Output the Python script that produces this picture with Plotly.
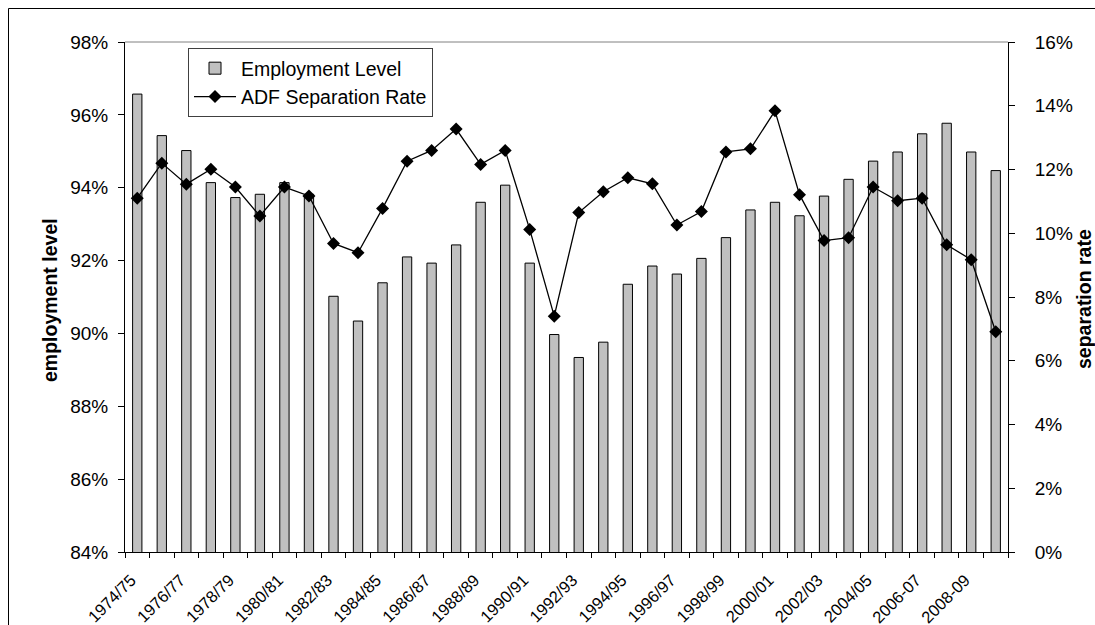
import plotly.graph_objects as go

categories = ["1974/75", "1975/76", "1976/77", "1977/78", "1978/79", "1979/80",
              "1980/81", "1981/82", "1982/83", "1983/84", "1984/85", "1985/86",
              "1986/87", "1987/88", "1988/89", "1989/90", "1990/91", "1991/92",
              "1992/93", "1993/94", "1994/95", "1995/96", "1996/97", "1997/98",
              "1998/99", "1999/00", "2000/01", "2001/02", "2002/03", "2003/04",
              "2004/05", "2005/06", "2006-07", "2007-08", "2008-09", "2009-10"]

employment_level = [96.57, 95.43, 95.02, 94.14, 93.73, 93.82, 94.14, 93.82, 91.02, 90.34,
                    91.39, 92.10, 91.93, 92.43, 93.60, 94.07, 91.93, 89.97, 89.34, 89.76,
                    91.35, 91.85, 91.63, 92.06, 92.63, 93.39, 93.60, 93.23, 93.77, 94.23,
                    94.73, 94.98, 95.48, 95.77, 94.98, 94.47]

separation_rate = [11.10, 12.20, 11.54, 12.01, 11.45, 10.54, 11.45, 11.17, 9.68, 9.39,
                   10.78, 12.26, 12.60, 13.27, 12.16, 12.60, 10.12, 7.40, 10.65, 11.30,
                   11.74, 11.55, 10.26, 10.68, 12.55, 12.65, 13.84, 11.21, 9.77, 9.86,
                   11.45, 11.02, 11.10, 9.64, 9.17, 6.91]

tick_text = [c if i % 2 == 0 else "" for i, c in enumerate(categories)]

left_ticks = [84, 86, 88, 90, 92, 94, 96, 98]
left_tick_text = ["84%", "86%", "88%", "90%", "92%", "94%", "96%", "98%"]
right_ticks = [0, 2, 4, 6, 8, 10, 12, 14, 16]
right_tick_text = ["0%", "2%", "4%", "6%", "8%", "10%", "12%", "14%", "16%"]

FONT = "Arial, 'Liberation Sans', sans-serif"

W, H = 1095, 625
ML, MR, MT, MB = 125, 87, 42, 73
PW, PH = W - ML - MR, H - MT - MB


def px_x(x):
    return (x - ML) / PW


def px_y(y):
    return 1 - (y - MT) / PH


fig = go.Figure()
fig.add_trace(go.Bar(
    x=categories, y=employment_level, name="Employment Level",
    marker=dict(color="#C0C0C0", line=dict(color="black", width=1)),
    yaxis="y",
))
fig.add_trace(go.Scatter(
    x=categories, y=separation_rate, name="ADF Separation Rate",
    mode="lines+markers",
    line=dict(color="black", width=1.3),
    marker=dict(symbol="diamond", size=10, color="black"),
    yaxis="y2",
))

fig.update_layout(
    width=W, height=H,
    margin=dict(l=ML, r=MR, t=MT, b=MB, autoexpand=False),
    paper_bgcolor="white", plot_bgcolor="white",
    font=dict(family=FONT, size=19, color="black"),
    bargap=0.62,
    showlegend=True,
    legend=dict(
        x=px_x(188), y=px_y(48), xanchor="left", yanchor="top",
        bgcolor="white", bordercolor="#404040", borderwidth=1,
        font=dict(family=FONT, size=19.5, color="black"),
        itemwidth=42,
    ),
    xaxis=dict(
        type="category",
        tickmode="array", tickvals=categories, ticktext=tick_text,
        tickson="boundaries",
        tickangle=-45,
        ticks="outside", ticklen=5, tickcolor="black",
        showline=True, linecolor="black", linewidth=1,
        showgrid=False, zeroline=False,
        tickfont=dict(family=FONT, size=16.5),
        ticklabelshift=-6, ticklabelstandoff=11,
        range=[-0.5, len(categories) - 0.5],
    ),
    yaxis=dict(
        range=[84, 98], tickmode="array", tickvals=left_ticks, ticktext=left_tick_text,
        ticks="outside", ticklen=6, tickcolor="black",
        showline=True, linecolor="black", linewidth=1,
        showgrid=False, zeroline=False,
        tickfont=dict(family=FONT, size=19),
        ticklabelstandoff=6,
    ),
    yaxis2=dict(
        range=[0, 16], tickmode="array", tickvals=right_ticks, ticktext=right_tick_text,
        overlaying="y", side="right",
        ticks="outside", ticklen=6, tickcolor="black",
        showline=True, linecolor="black", linewidth=1,
        showgrid=False, zeroline=False,
        tickfont=dict(family=FONT, size=19),
        ticklabelstandoff=16,
    ),
    shapes=[
        # plot area top border (gray)
        dict(type="line", xref="paper", yref="paper", x0=0, x1=1, y0=1, y1=1,
             line=dict(color="#808080", width=1)),
        # outer chart border (cut off at right and bottom)
        dict(type="line", xref="paper", yref="paper",
             x0=px_x(8.5), x1=px_x(1100), y0=px_y(8.5), y1=px_y(8.5),
             line=dict(color="black", width=1), layer="below"),
        dict(type="line", xref="paper", yref="paper",
             x0=px_x(8.5), x1=px_x(8.5), y0=px_y(8.5), y1=px_y(630),
             line=dict(color="black", width=1), layer="below"),
    ],
    annotations=[
        dict(text="<b>employment level</b>", xref="paper", yref="paper",
             x=px_x(50), y=px_y(300), textangle=-90, showarrow=False,
             xanchor="center", yanchor="middle",
             font=dict(family=FONT, size=19.5, color="black")),
        dict(text="<b>separation rate</b>", xref="paper", yref="paper",
             x=px_x(1084), y=px_y(299), textangle=-90, showarrow=False,
             xanchor="center", yanchor="middle",
             font=dict(family=FONT, size=19.5, color="black")),
    ],
)

fig.write_html(
    "out.html",
    config={"displayModeBar": False},
    post_script="document.body.style.margin='0';document.body.style.overflow='hidden';",
)
